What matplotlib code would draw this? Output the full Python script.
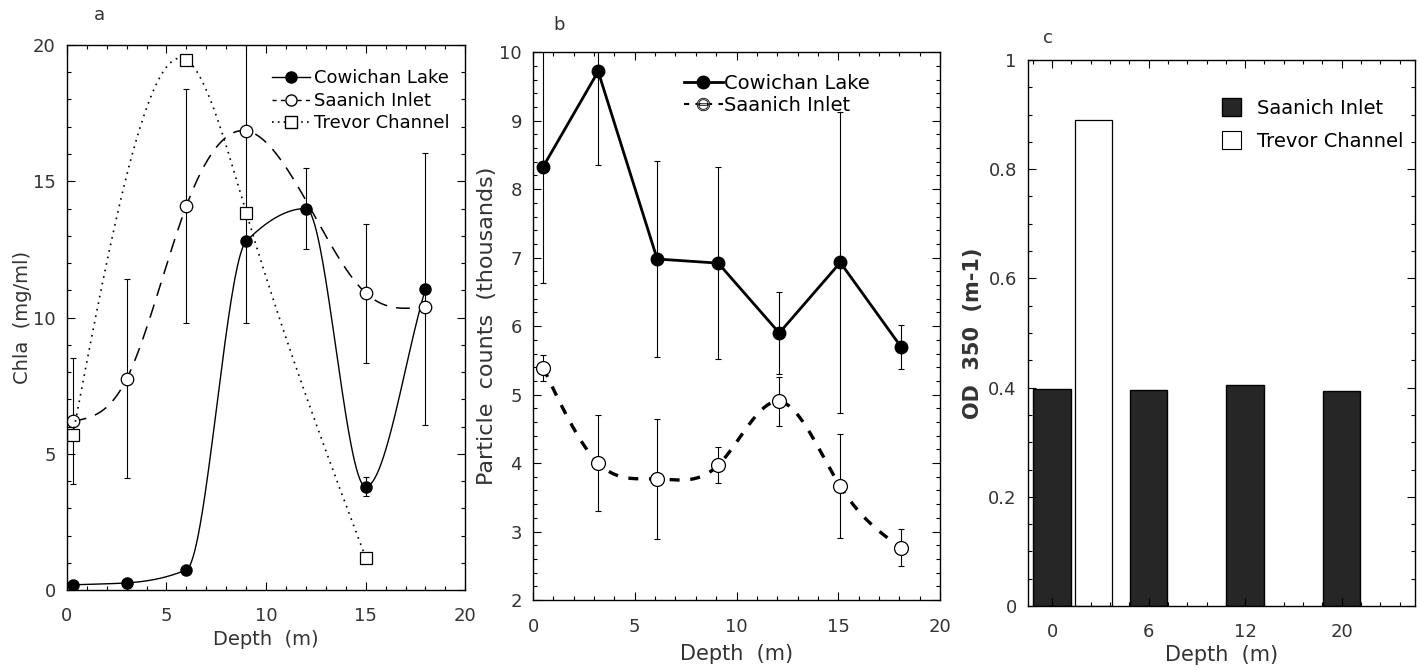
import numpy as np
import matplotlib.pyplot as plt
from matplotlib.lines import Line2D
from matplotlib.patches import Patch
from matplotlib.ticker import MultipleLocator

# a: chlorophyll vs depth
depth_cow_a = [0.3, 3, 6, 9, 12, 15, 18]
chla_cow = [0.2, 0.27, 0.75, 12.8, 14.0, 3.8, 11.05]
chla_cow_err = [0, 0, 0, 0, 1.5, 0.35, 5.0]
depth_saa_a = [0.3, 3, 6, 9, 15, 18]
chla_saa = [6.2, 7.75, 14.1, 16.85, 10.9, 10.4]
chla_saa_err = [2.3, 3.65, 4.3, 7.05, 2.55, 0]
depth_tre_a = [0.3, 6, 9, 15]
chla_tre = [5.7, 19.45, 13.85, 1.2]

# b: particle counts vs depth
depth_b = [0.5, 3.2, 6.1, 9.1, 12.1, 15.1, 18.1]
counts_cow = [8.33, 9.72, 6.98, 6.92, 5.9, 6.93, 5.69]
counts_cow_err = [1.7, 1.37, 1.43, 1.4, 0.6, 2.2, 0.32]
counts_saa = [5.39, 4.0, 3.77, 3.97, 4.9, 3.66, 2.76]
counts_saa_err = [0.19, 0.7, 0.88, 0.26, 0.36, 0.76, 0.27]

# c: OD 350
od_depth = ["0", "6", "12", "20"]
od_saanich = [0.398, 0.396, 0.404, 0.393]
od_trevor = [0.89, np.nan, np.nan, np.nan]


def spline(x, y, n=400):
    # natural cubic spline, only used to draw the smooth lines
    x = np.asarray(x, float)
    y = np.asarray(y, float)
    h = np.diff(x)
    k = len(x)
    A = np.zeros((k, k))
    r = np.zeros(k)
    A[0, 0] = A[-1, -1] = 1
    for i in range(1, k - 1):
        A[i, i - 1] = h[i - 1]
        A[i, i] = 2 * (h[i - 1] + h[i])
        A[i, i + 1] = h[i]
        r[i] = 6 * ((y[i + 1] - y[i]) / h[i] - (y[i] - y[i - 1]) / h[i - 1])
    m = np.linalg.solve(A, r)
    xs = np.linspace(x[0], x[-1], n)
    j = np.clip(np.searchsorted(x, xs) - 1, 0, k - 2)
    t0 = xs - x[j]
    t1 = x[j + 1] - xs
    hh = h[j]
    ys = (m[j] * t1**3 + m[j + 1] * t0**3) / (6 * hh) \
        + (y[j] / hh - m[j] * hh / 6) * t1 + (y[j + 1] / hh - m[j + 1] * hh / 6) * t0
    return xs, ys


def pchip(x, y, n=400):
    # monotone cubic (Fritsch-Carlson) for the Cowichan curve
    x = np.asarray(x, float)
    y = np.asarray(y, float)
    h = np.diff(x)
    d = np.diff(y) / h
    k = len(x)
    m = np.zeros(k)
    for i in range(1, k - 1):
        if d[i - 1] * d[i] > 0:
            w1 = 2 * h[i] + h[i - 1]
            w2 = h[i] + 2 * h[i - 1]
            m[i] = (w1 + w2) / (w1 / d[i - 1] + w2 / d[i])
    m[0] = d[0]
    m[-1] = d[-1]
    xs = np.linspace(x[0], x[-1], n)
    j = np.clip(np.searchsorted(x, xs) - 1, 0, k - 2)
    t = (xs - x[j]) / h[j]
    h00 = 2 * t**3 - 3 * t**2 + 1
    h10 = t**3 - 2 * t**2 + t
    h01 = -2 * t**3 + 3 * t**2
    h11 = t**3 - t**2
    ys = h00 * y[j] + h10 * h[j] * m[j] + h01 * y[j + 1] + h11 * h[j] * m[j + 1]
    return xs, ys


plt.rcParams["font.family"] = ["DejaVu Sans"]
plt.rcParams["xtick.direction"] = "in"
plt.rcParams["ytick.direction"] = "in"
txt = "#333333"
fs = 13

fig = plt.figure(figsize=(14.23, 6.70), dpi=100)
ax1 = fig.add_axes([0.047, 0.119, 0.280, 0.814])
ax2 = fig.add_axes([0.3746, 0.1045, 0.286, 0.8175])
ax3 = fig.add_axes([0.7224, 0.0955, 0.272, 0.815])


def style(ax, xpad=8):
    ax.tick_params(which="both", top=True, right=True, colors="black",
                   labelcolor=txt, labelsize=fs, width=0.8)
    ax.tick_params(which="major", length=6, pad=8)
    ax.tick_params(axis="x", which="major", pad=xpad)
    ax.tick_params(which="minor", length=3)
    for s in ax.spines.values():
        s.set_linewidth(1.0)


# panel a
ekw = dict(fmt="none", ecolor="black", elinewidth=0.8, capsize=2.5, capthick=0.8)
ax1.errorbar(depth_cow_a, chla_cow, yerr=chla_cow_err, **ekw)
ax1.errorbar(depth_saa_a, chla_saa, yerr=chla_saa_err, **ekw)
xs, ys = pchip(depth_cow_a, chla_cow)
ax1.plot(xs, ys, color="black", lw=1.0)
ax1.plot(depth_cow_a, chla_cow, "o", color="black", ms=8)
xs, ys = spline(depth_saa_a, chla_saa)
ax1.plot(xs, ys, color="black", lw=1.1, dashes=(9, 6))
ax1.plot(depth_saa_a, chla_saa, "o", mfc="white", mec="black", ms=9, mew=0.9)
xs, ys = spline(depth_tre_a, chla_tre)
ax1.plot(xs, ys, color="black", lw=1.2, dashes=(1, 3))
ax1.plot(depth_tre_a, chla_tre, "s", mfc="white", mec="black", ms=9, mew=0.9)
ax1.set_xlim(0, 20)
ax1.set_ylim(0, 20)
ax1.xaxis.set_major_locator(MultipleLocator(5))
ax1.xaxis.set_minor_locator(MultipleLocator(1))
ax1.yaxis.set_major_locator(MultipleLocator(5))
ax1.yaxis.set_minor_locator(MultipleLocator(1))
style(ax1, xpad=12)
ax1.set_xlabel("Depth  (m)", fontsize=fs + 1, color=txt, labelpad=4)
ax1.set_ylabel("Chla  (mg/ml)", fontsize=fs + 1, color=txt, labelpad=1)
h1 = [Line2D([], [], color="black", lw=1.0, marker="o", ms=8),
      Line2D([], [], color="black", lw=1.0, dashes=(3, 3), marker="o", mfc="white", ms=8),
      Line2D([], [], color="black", lw=1.2, dashes=(1, 2.5), marker="s", mfc="white", ms=8)]
ax1.legend(h1, ["Cowichan Lake", "Saanich Inlet", "Trevor Channel"], loc="upper left",
           bbox_to_anchor=(0.515, 0.955), frameon=False, fontsize=fs, handlelength=2.1,
           handletextpad=0.2, labelspacing=0.25, borderaxespad=0, borderpad=0)
ax1.text(0.068, 1.055, "a", transform=ax1.transAxes, fontsize=fs, color=txt, va="center")

# panel b
ax2.errorbar(depth_b, counts_cow, yerr=counts_cow_err, **ekw)
ax2.errorbar(depth_b, counts_saa, yerr=counts_saa_err, **ekw)
ax2.plot(depth_b, counts_cow, "-o", color="black", lw=2.0, ms=9)
xs, ys = spline(depth_b, counts_saa)
ax2.plot(xs, ys, color="black", lw=2.4, dashes=(3, 3.2))
ax2.plot(depth_b, counts_saa, "o", mfc="white", mec="black", ms=10, mew=0.9)
ax2.set_xlim(0, 20)
ax2.set_ylim(2, 10)
ax2.xaxis.set_major_locator(MultipleLocator(5))
ax2.xaxis.set_minor_locator(MultipleLocator(1))
ax2.yaxis.set_major_locator(MultipleLocator(1))
ax2.yaxis.set_minor_locator(MultipleLocator(0.2))
style(ax2, xpad=13)
ax2.set_xlabel("Depth  (m)", fontsize=fs + 2, color=txt, labelpad=6)
ax2.set_ylabel("Particle  counts  (thousands)", fontsize=fs + 3, color=txt, labelpad=2)
h2 = [Line2D([], [], color="black", lw=2.0, marker="o", ms=9),
      Line2D([], [], color="black", lw=1.5, dashes=(2.5, 3), marker="$\\ominus$",
             mec="black", mfc="white", ms=9, mew=0.6)]
ax2.legend(h2, ["Cowichan Lake", "Saanich Inlet"], loc="upper left",
           bbox_to_anchor=(0.37, 0.96), frameon=False, fontsize=fs + 1, handlelength=2.0,
           handletextpad=0.1, labelspacing=0.15, borderaxespad=0, borderpad=0)
ax2.text(0.05, 1.049, "b", transform=ax2.transAxes, fontsize=fs, color=txt, va="center")

# panel c
pos = np.arange(len(od_depth))
ax3.bar(pos, od_saanich, width=0.39, color="#262626", edgecolor="black", lw=1.0)
ax3.bar(pos + 0.43, od_trevor, width=0.39, color="white", edgecolor="black", lw=0.9)
ax3.set_xlim(-0.25, 3.76)
ax3.set_ylim(0, 1)
ax3.set_xticks(pos)
ax3.set_xticklabels(od_depth)
ax3.xaxis.set_minor_locator(MultipleLocator(0.2))
ax3.yaxis.set_minor_locator(MultipleLocator(0.05))
ax3.set_yticks([0, 0.2, 0.4, 0.6, 0.8, 1.0])
ax3.set_yticklabels(["0", "0.2", "0.4", "0.6", "0.8", "1"])
style(ax3, xpad=12)
ax3.set_xlabel("Depth  (m)", fontsize=fs + 2, color=txt, labelpad=3)
ax3.set_ylabel("OD  350  (m-1)", fontsize=fs + 2, color=txt, labelpad=4, fontweight="bold")
h3 = [Patch(facecolor="#262626", edgecolor="black"),
      Patch(facecolor="white", edgecolor="black", lw=0.8)]
ax3.legend(h3, ["Saanich Inlet", "Trevor Channel"], loc="upper left",
           bbox_to_anchor=(0.5, 0.93), frameon=False, fontsize=fs + 1, handlelength=1.0,
           handleheight=1.0, handletextpad=0.8, labelspacing=0.7, borderaxespad=0, borderpad=0)
ax3.text(0.04, 1.04, "c", transform=ax3.transAxes, fontsize=fs, color=txt, va="center")

fig.savefig("out.png", dpi=100)
